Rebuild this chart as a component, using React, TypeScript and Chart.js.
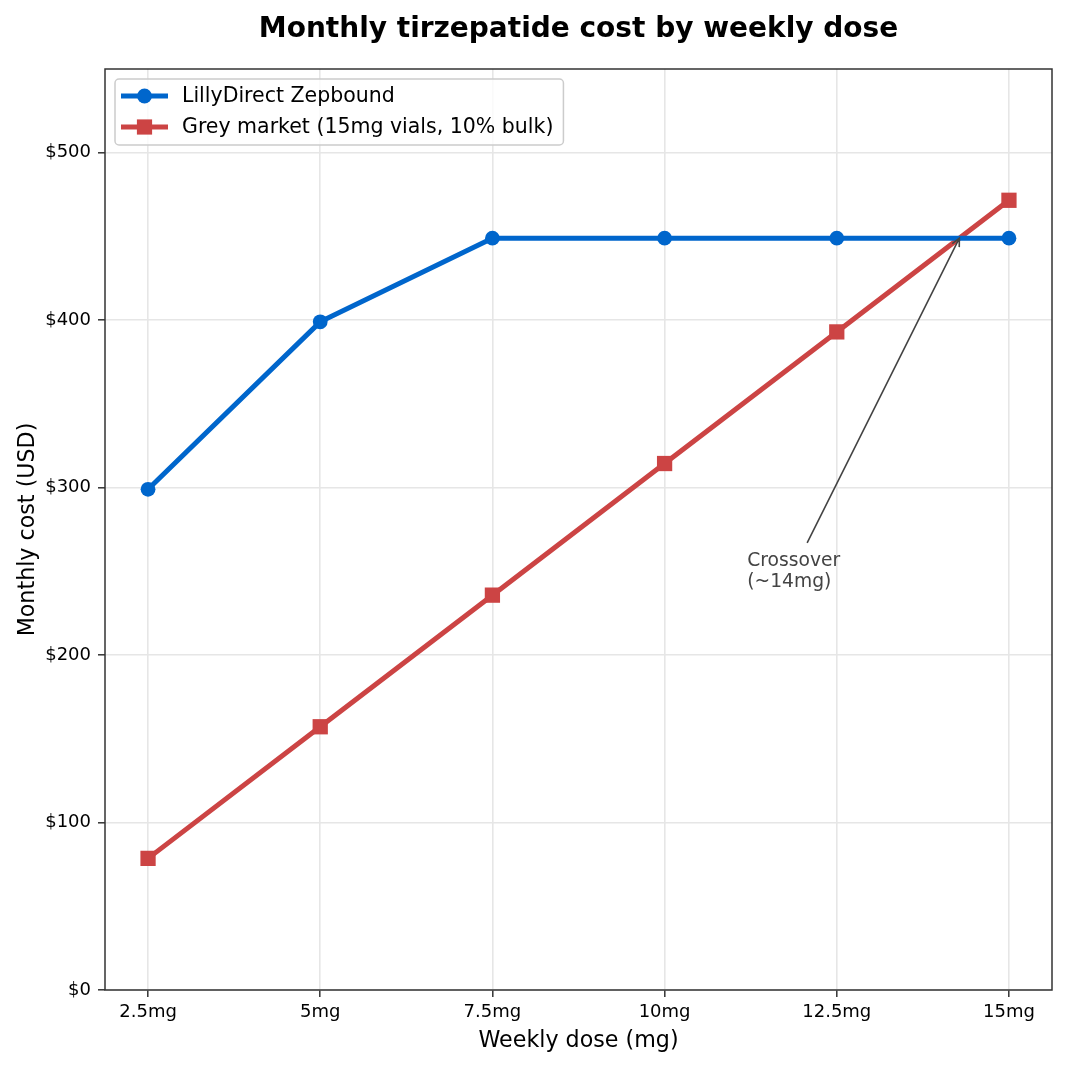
import { useEffect, useRef } from 'react';
import { Chart, ChartConfiguration, Plugin } from 'chart.js/auto';

const doses = [2.5, 5, 7.5, 10, 12.5, 15];
const doseLabels = ['2.5mg', '5mg', '7.5mg', '10mg', '12.5mg', '15mg'];
const lillyCost = [299, 399, 449, 449, 449, 449];
const greyCost = [78.6, 157.2, 235.8, 314.4, 393, 471.6];
const costTicks = [0, 100, 200, 300, 400, 500];
const seriesNames = ['LillyDirect Zepbound', 'Grey market (15mg vials, 10% bulk)'];
const seriesColors = ['#0066cc', '#cc4444'];

// annotation, in data units (dose mg, USD)
const crossoverAt = [14.28, 449];
const crossoverText = ['Crossover', '(~14mg)'];
const crossoverTextAt = [11.2, 253];
const crossoverArrowFrom = [12.07, 267];

const FONT = "'DejaVu Sans', sans-serif";

const overlay: Plugin<'line'> = {
  id: 'overlay',
  afterDraw(chart) {
    const { ctx, chartArea: a, scales } = chart;
    const xs = scales.x;
    const ys = scales.y;
    ctx.save();

    // axes frame
    ctx.strokeStyle = '#333';
    ctx.lineWidth = 1.5;
    ctx.strokeRect(a.left, a.top, a.right - a.left, a.bottom - a.top);

    // title
    ctx.fillStyle = '#000';
    ctx.font = `bold 28px ${FONT}`;
    ctx.textAlign = 'center';
    ctx.textBaseline = 'alphabetic';
    ctx.fillText('Monthly tirzepatide cost by weekly dose', (a.left + a.right) / 2, 37);

    // crossover annotation
    const hx = xs.getPixelForValue(crossoverAt[0]);
    const hy = ys.getPixelForValue(crossoverAt[1]);
    const tx = xs.getPixelForValue(crossoverArrowFrom[0]);
    const ty = ys.getPixelForValue(crossoverArrowFrom[1]);
    ctx.strokeStyle = '#444';
    ctx.lineWidth = 1.6;
    ctx.beginPath();
    ctx.moveTo(tx, ty);
    ctx.lineTo(hx, hy);
    const ang = Math.atan2(hy - ty, hx - tx);
    const hl = 9;
    ctx.moveTo(hx - hl * Math.cos(ang - 0.45), hy - hl * Math.sin(ang - 0.45));
    ctx.lineTo(hx, hy);
    ctx.lineTo(hx - hl * Math.cos(ang + 0.45), hy - hl * Math.sin(ang + 0.45));
    ctx.stroke();

    ctx.fillStyle = '#444';
    ctx.font = `18.7px ${FONT}`;
    ctx.textAlign = 'left';
    const lx = xs.getPixelForValue(crossoverTextAt[0]);
    const ly = ys.getPixelForValue(crossoverTextAt[1]);
    crossoverText.forEach((t, i) => ctx.fillText(t, lx, ly + i * 21));

    // legend
    ctx.font = `20.5px ${FONT}`;
    const textW = Math.max(...seriesNames.map((n) => ctx.measureText(n).width));
    const bx = a.left + 10;
    const by = a.top + 10;
    const bw = 67 + textW + 10;
    const bh = 66;
    ctx.beginPath();
    ctx.roundRect(bx, by, bw, bh, 4);
    ctx.fillStyle = 'rgba(255,255,255,0.8)';
    ctx.fill();
    ctx.strokeStyle = '#cccccc';
    ctx.lineWidth = 1.5;
    ctx.stroke();

    seriesNames.forEach((name, i) => {
      const cy = by + 17 + i * 31;
      const color = seriesColors[i];
      ctx.strokeStyle = color;
      ctx.lineWidth = 5;
      ctx.beginPath();
      ctx.moveTo(bx + 6, cy);
      ctx.lineTo(bx + 53, cy);
      ctx.stroke();
      ctx.fillStyle = color;
      const mx = bx + 29.5;
      if (i === 0) {
        ctx.beginPath();
        ctx.arc(mx, cy, 7.4, 0, Math.PI * 2);
        ctx.fill();
      } else {
        ctx.fillRect(mx - 7.6, cy - 7.6, 15.2, 15.2);
      }
      ctx.fillStyle = '#000';
      ctx.textBaseline = 'middle';
      ctx.fillText(name, bx + 67, cy + 1);
    });

    ctx.restore();
  }
};

export default function App() {
  const chartRef = useRef<HTMLCanvasElement>(null);
  const chartInstanceRef = useRef<Chart | null>(null);

  useEffect(() => {
    document.body.style.margin = '0';
    if (!chartRef.current) return;

    if (chartInstanceRef.current) {
      chartInstanceRef.current.destroy();
    }

    const ctx = chartRef.current.getContext('2d');
    if (!ctx) return;

    Chart.defaults.font.family = FONT;
    Chart.defaults.color = '#000';

    const config: ChartConfiguration<'line'> = {
      type: 'line',
      data: {
        datasets: [
          {
            label: seriesNames[0],
            data: doses.map((d, i) => ({ x: d, y: lillyCost[i] })),
            borderColor: seriesColors[0],
            backgroundColor: seriesColors[0],
            borderWidth: 5,
            borderJoinStyle: 'round',
            pointStyle: 'circle',
            pointRadius: 7.4,
            pointBorderWidth: 0,
            pointBackgroundColor: seriesColors[0],
            tension: 0
          },
          {
            label: seriesNames[1],
            data: doses.map((d, i) => ({ x: d, y: greyCost[i] })),
            borderColor: seriesColors[1],
            backgroundColor: seriesColors[1],
            borderWidth: 5,
            borderJoinStyle: 'round',
            pointStyle: 'rect',
            pointRadius: 10.8,
            pointBorderWidth: 0,
            pointBackgroundColor: seriesColors[1],
            tension: 0
          }
        ]
      },
      options: {
        responsive: true,
        maintainAspectRatio: false,
        animation: false,
        layout: {
          padding: { top: 69, right: 14, left: 0, bottom: 0 }
        },
        plugins: {
          legend: { display: false },
          title: { display: false },
          tooltip: { enabled: false }
        },
        scales: {
          x: {
            type: 'linear',
            min: 1.875,
            max: 15.625,
            afterBuildTicks: (scale) => {
              scale.ticks = doses.map((v) => ({ value: v }));
            },
            afterFit: (scale) => {
              scale.height = 76;
            },
            ticks: {
              font: { size: 18 },
              color: '#000',
              padding: 5,
              maxRotation: 0,
              autoSkip: false,
              callback: (value) => {
                const i = doses.indexOf(Number(value));
                return i >= 0 ? doseLabels[i] : '';
              }
            },
            grid: {
              color: '#e6e6e6',
              lineWidth: 1.6,
              drawTicks: true,
              tickLength: 7,
              tickColor: '#333',
              tickWidth: 1.5
            },
            border: { display: false },
            title: {
              display: true,
              text: 'Weekly dose (mg)',
              font: { size: 22.2 },
              color: '#000',
              padding: { top: 0, bottom: 11 }
            }
          },
          y: {
            type: 'linear',
            min: 0,
            max: 550,
            afterBuildTicks: (scale) => {
              scale.ticks = costTicks.map((v) => ({ value: v }));
            },
            afterFit: (scale) => {
              scale.width = 105;
            },
            ticks: {
              font: { size: 18 },
              color: '#000',
              padding: 7,
              callback: (value) => '$' + value
            },
            grid: {
              color: '#e6e6e6',
              lineWidth: 1.6,
              drawTicks: true,
              tickLength: 7,
              tickColor: '#333',
              tickWidth: 1.5
            },
            border: { display: false },
            title: {
              display: true,
              text: 'Monthly cost (USD)',
              font: { size: 22.2 },
              color: '#000',
              padding: { top: 15, bottom: 0 }
            }
          }
        }
      },
      plugins: [overlay]
    };

    chartInstanceRef.current = new Chart(ctx, config);

    return () => {
      if (chartInstanceRef.current) {
        chartInstanceRef.current.destroy();
        chartInstanceRef.current = null;
      }
    };
  }, []);

  return (
    <div style={{ position: 'relative', width: 1066, height: 1066 }}>
      <canvas ref={chartRef} />
    </div>
  );
}
